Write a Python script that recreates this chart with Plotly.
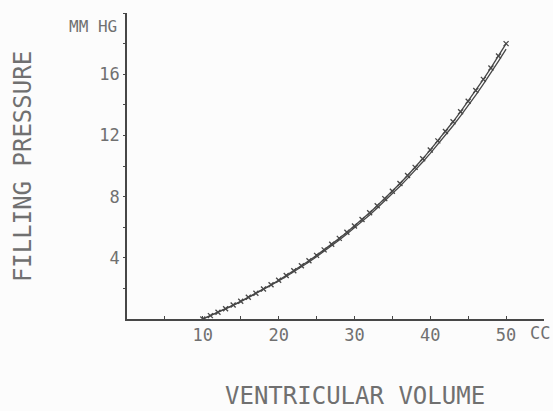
import plotly.graph_objects as go

# Data (volume in cc, pressure in mm Hg)
volume = list(range(10, 51))
pressure_marked = [0.0, 0.22, 0.44, 0.67, 0.91, 1.16, 1.42, 1.68, 1.96, 2.24,
                   2.53, 2.84, 3.15, 3.48, 3.81, 4.16, 4.52, 4.89, 5.27, 5.67,
                   6.08, 6.50, 6.94, 7.40, 7.87, 8.35, 8.86, 9.38, 9.91, 10.47,
                   11.05, 11.64, 12.26, 12.89, 13.55, 14.23, 14.93, 15.66, 16.41, 17.19,
                   18.0]
pressure_plain = [0.0, 0.21, 0.43, 0.65, 0.89, 1.13, 1.39, 1.65, 1.92, 2.19,
                  2.48, 2.78, 3.08, 3.40, 3.73, 4.07, 4.42, 4.79, 5.16, 5.55,
                  5.95, 6.37, 6.80, 7.25, 7.71, 8.18, 8.68, 9.19, 9.71, 10.26,
                  10.82, 11.40, 12.01, 12.63, 13.28, 13.94, 14.63, 15.35, 16.08, 16.85,
                  17.64]
x_ticks = [10, 20, 30, 40, 50]
x_minor = [5, 15, 25, 35, 45, 55]
y_ticks = [4, 8, 12, 16]
y_minor = [2, 6, 10, 14, 18, 20]

INK = "#474747"
TXT = "#707070"
FONT = "DejaVu Sans Mono"

fig = go.Figure()
fig.add_trace(go.Scatter(
    x=volume, y=pressure_plain, mode="lines",
    line=dict(color=INK, width=1.3), showlegend=False))
fig.add_trace(go.Scatter(
    x=volume, y=pressure_marked, mode="lines+markers",
    line=dict(color=INK, width=1.3),
    marker=dict(symbol="x-thin", size=5, line=dict(color=INK, width=1.3)),
    showlegend=False))

fig.update_layout(
    width=553, height=411,
    margin=dict(l=127, r=9, t=13, b=92),
    paper_bgcolor="#fcfcfc", plot_bgcolor="#fcfcfc",
    font=dict(family=FONT, color=TXT, size=14),
    xaxis=dict(range=[0, 55], showgrid=False, zeroline=False,
               showline=True, linecolor=INK, linewidth=1.5,
               tickmode="array", tickvals=x_ticks, ticktext=[str(t) for t in x_ticks],
               ticks="inside", ticklen=3, tickcolor=INK, tickwidth=1,
               tickfont=dict(size=17, color=TXT, family=FONT),
               minor=dict(tickvals=x_minor, ticks="inside", ticklen=3, tickcolor=INK)),
    yaxis=dict(range=[0, 20], showgrid=False, zeroline=False,
               showline=True, linecolor=INK, linewidth=1.5,
               tickmode="array", tickvals=y_ticks, ticktext=[str(t) for t in y_ticks],
               ticks="outside", ticklen=2, tickcolor=INK, tickwidth=1,
               tickfont=dict(size=17, color=TXT, family=FONT),
               minor=dict(tickvals=y_minor, ticks="outside", ticklen=2, tickcolor=INK)),
)

fig.add_annotation(text="MM HG", xref="paper", yref="paper", x=-0.02, y=0.957,
                   xanchor="right", yanchor="middle", showarrow=False,
                   font=dict(size=16, color=TXT, family=FONT))
fig.add_annotation(text="CC", xref="paper", yref="paper", x=1.02, y=-0.046,
                   xanchor="right", yanchor="middle", showarrow=False,
                   font=dict(size=17, color=TXT, family=FONT))
fig.add_annotation(text="VENTRICULAR VOLUME", xref="paper", yref="paper", x=0.547, y=-0.252,
                   xanchor="center", yanchor="middle", showarrow=False,
                   font=dict(size=24, color=TXT, family=FONT))
fig.add_annotation(text="FILLING PRESSURE", xref="paper", yref="paper", x=-0.249, y=0.497,
                   xanchor="center", yanchor="middle", showarrow=False, textangle=-90,
                   font=dict(size=24, color=TXT, family=FONT))

fig.write_html("out.html")
